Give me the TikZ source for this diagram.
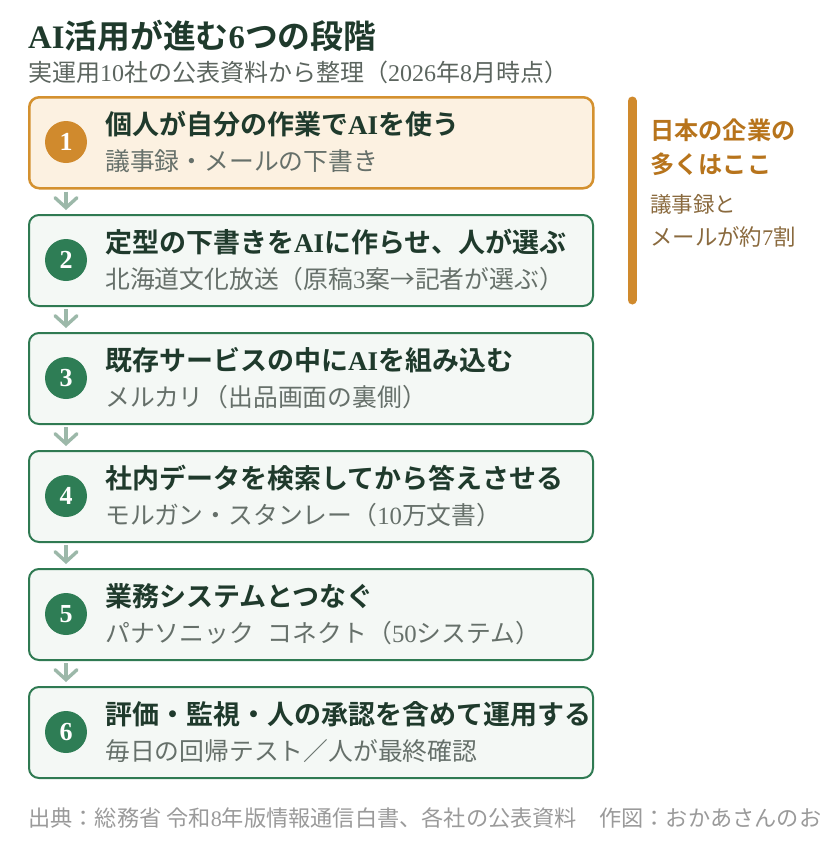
\documentclass[tikz,border=0pt]{standalone}
\usepackage{fontspec}
\setmainfont{Liberation Serif}
\newfontfamily\jpfont{Noto Sans CJK JP}[BoldFont={Noto Sans CJK JP Bold}]
\usetikzlibrary{arrows.meta}
\newcommand{\lat}[1]{{\rmfamily #1}}
\definecolor{inkgreen}{HTML}{1F3A2C}
\definecolor{boxgreen}{HTML}{2F7A52}
\definecolor{boxfill}{HTML}{F4F8F5}
\definecolor{dotgreen}{HTML}{2E7D55}
\definecolor{firstfill}{HTML}{FCF1E1}
\definecolor{firstline}{HTML}{D4912F}
\definecolor{dotorange}{HTML}{D08A2D}
\definecolor{arrowgreen}{HTML}{9CB8A9}
\definecolor{subgray}{HTML}{66706A}
\definecolor{notebrown}{HTML}{B7741C}
\definecolor{notetext}{HTML}{8A6A3E}
\definecolor{footgray}{HTML}{9A9A9A}
\tikzset{
	stepbox/.style={
		draw = boxgreen,
		fill = boxfill,
		line width = 2pt,
		rounded corners = 10pt,
		minimum width = 564pt,
		minimum height = 91pt,
		inner sep = 0pt,
		anchor = north west
	},
	numdot/.style={
		shape = circle,
		fill = dotgreen,
		minimum size = 42pt,
		inner sep = 0pt,
		text = white,
		font = \rmfamily\bfseries\fontsize{26}{26}\selectfont
	},
	headtext/.style={
		anchor = base west,
		inner sep = 0pt,
		text = inkgreen,
		font = \jpfont\bfseries\fontsize{27}{31}\selectfont
	},
	subtext/.style={
		anchor = base west,
		inner sep = 0pt,
		text = subgray,
		font = \jpfont\fontsize{24.8}{28}\selectfont
	},
}
\tikzset{flowarrow/.style={draw = arrowgreen, line width = 3.4pt, shorten <=2pt, shorten >=4pt,
	-{Straight Barb[length=10pt, width=22pt, line cap=round]}}}

\begin{document}
\begin{tikzpicture}[x=1pt, y=-1pt]
    \useasboundingbox (0,0) rectangle (820,852);
    \node[headtext, font=\jpfont\bfseries\fontsize{32.8}{36}\selectfont] (title) at (28,48)
      {\lat{AI}活用が進む\lat{6}つの段階};
    \node[subtext, text=subgray!90!black, font=\jpfont\fontsize{24}{28}\selectfont] (lead) at (28,81)
      {実運用\lat{10}社の公表資料から整理（\lat{2026}年\lat{8}月時点）};
    % first step is the highlighted one
    \node[stepbox, draw=firstline, fill=firstfill, line width=2.5pt] (box1) at (28,96) {};
    \node[numdot, fill=dotorange] (num1) at (66,142) {1};
    \node[headtext] (head1) at (105,134) {個人が自分の作業で\lat{AI}を使う};
    \node[subtext] (sub1) at (105,170) {議事録・メールの下書き};
    \foreach \i/\hd/\sb [evaluate=\i as \ty using 96+118*(\i-1)] in {
      2/{定型の下書きを\lat{AI}に作らせ、人が選ぶ}/{北海道文化放送（原稿\lat{3}案→記者が選ぶ）},
      3/{既存サービスの中に\lat{AI}を組み込む}/{メルカリ（出品画面の裏側）},
      4/{社内データを検索してから答えさせる}/{モルガン・スタンレー（\lat{10}万文書）},
      5/{業務システムとつなぐ}/{パナソニック\hspace{14pt}コネクト（\lat{50}システム）},
      6/{評価・監視・人の承認を含めて運用する}/{毎日の回帰テスト／人が最終確認}}{
      \node[stepbox] (box\i) at (28,\ty) {};
      \node[numdot] (num\i) at (66,\ty+46) {\i};
      \node[headtext] (head\i) at (105,\ty+38) {\hd};
      \node[subtext] (sub\i) at (105,\ty+74) {\sb};
    }
    \foreach \i [evaluate=\i as \j using int(\i+1)] in {1,...,5}{
      \draw[flowarrow] (box\i.south -| num\i) -- (box\j.north -| num\i);
    }
    % side note
    \draw[line width=9pt, line cap=round, dotorange] (632,101) -- (632,300);
    \node[headtext, text=notebrown, font=\jpfont\bfseries\fontsize{24.2}{27}\selectfont] (note1) at (650,139) {日本の企業の};
    \node[headtext, text=notebrown, font=\jpfont\bfseries\fontsize{24.2}{27}\selectfont] (note2) at (650,173) {多くはここ};
    \node[subtext, text=notetext, font=\jpfont\fontsize{21.5}{25}\selectfont] (note3) at (650,212) {議事録と};
    \node[subtext, text=notetext, font=\jpfont\fontsize{22.4}{25}\selectfont] (note4) at (650,245) {メールが約\lat{7}割};
    \node[subtext, text=footgray, font=\jpfont\fontsize{22.2}{25}\selectfont] (source) at (28,826)
      {出典：総務省 令和\lat{8}年版情報通信白書、各社の公表資料　作図：おかあさんのお};
\end{tikzpicture}
\end{document}
